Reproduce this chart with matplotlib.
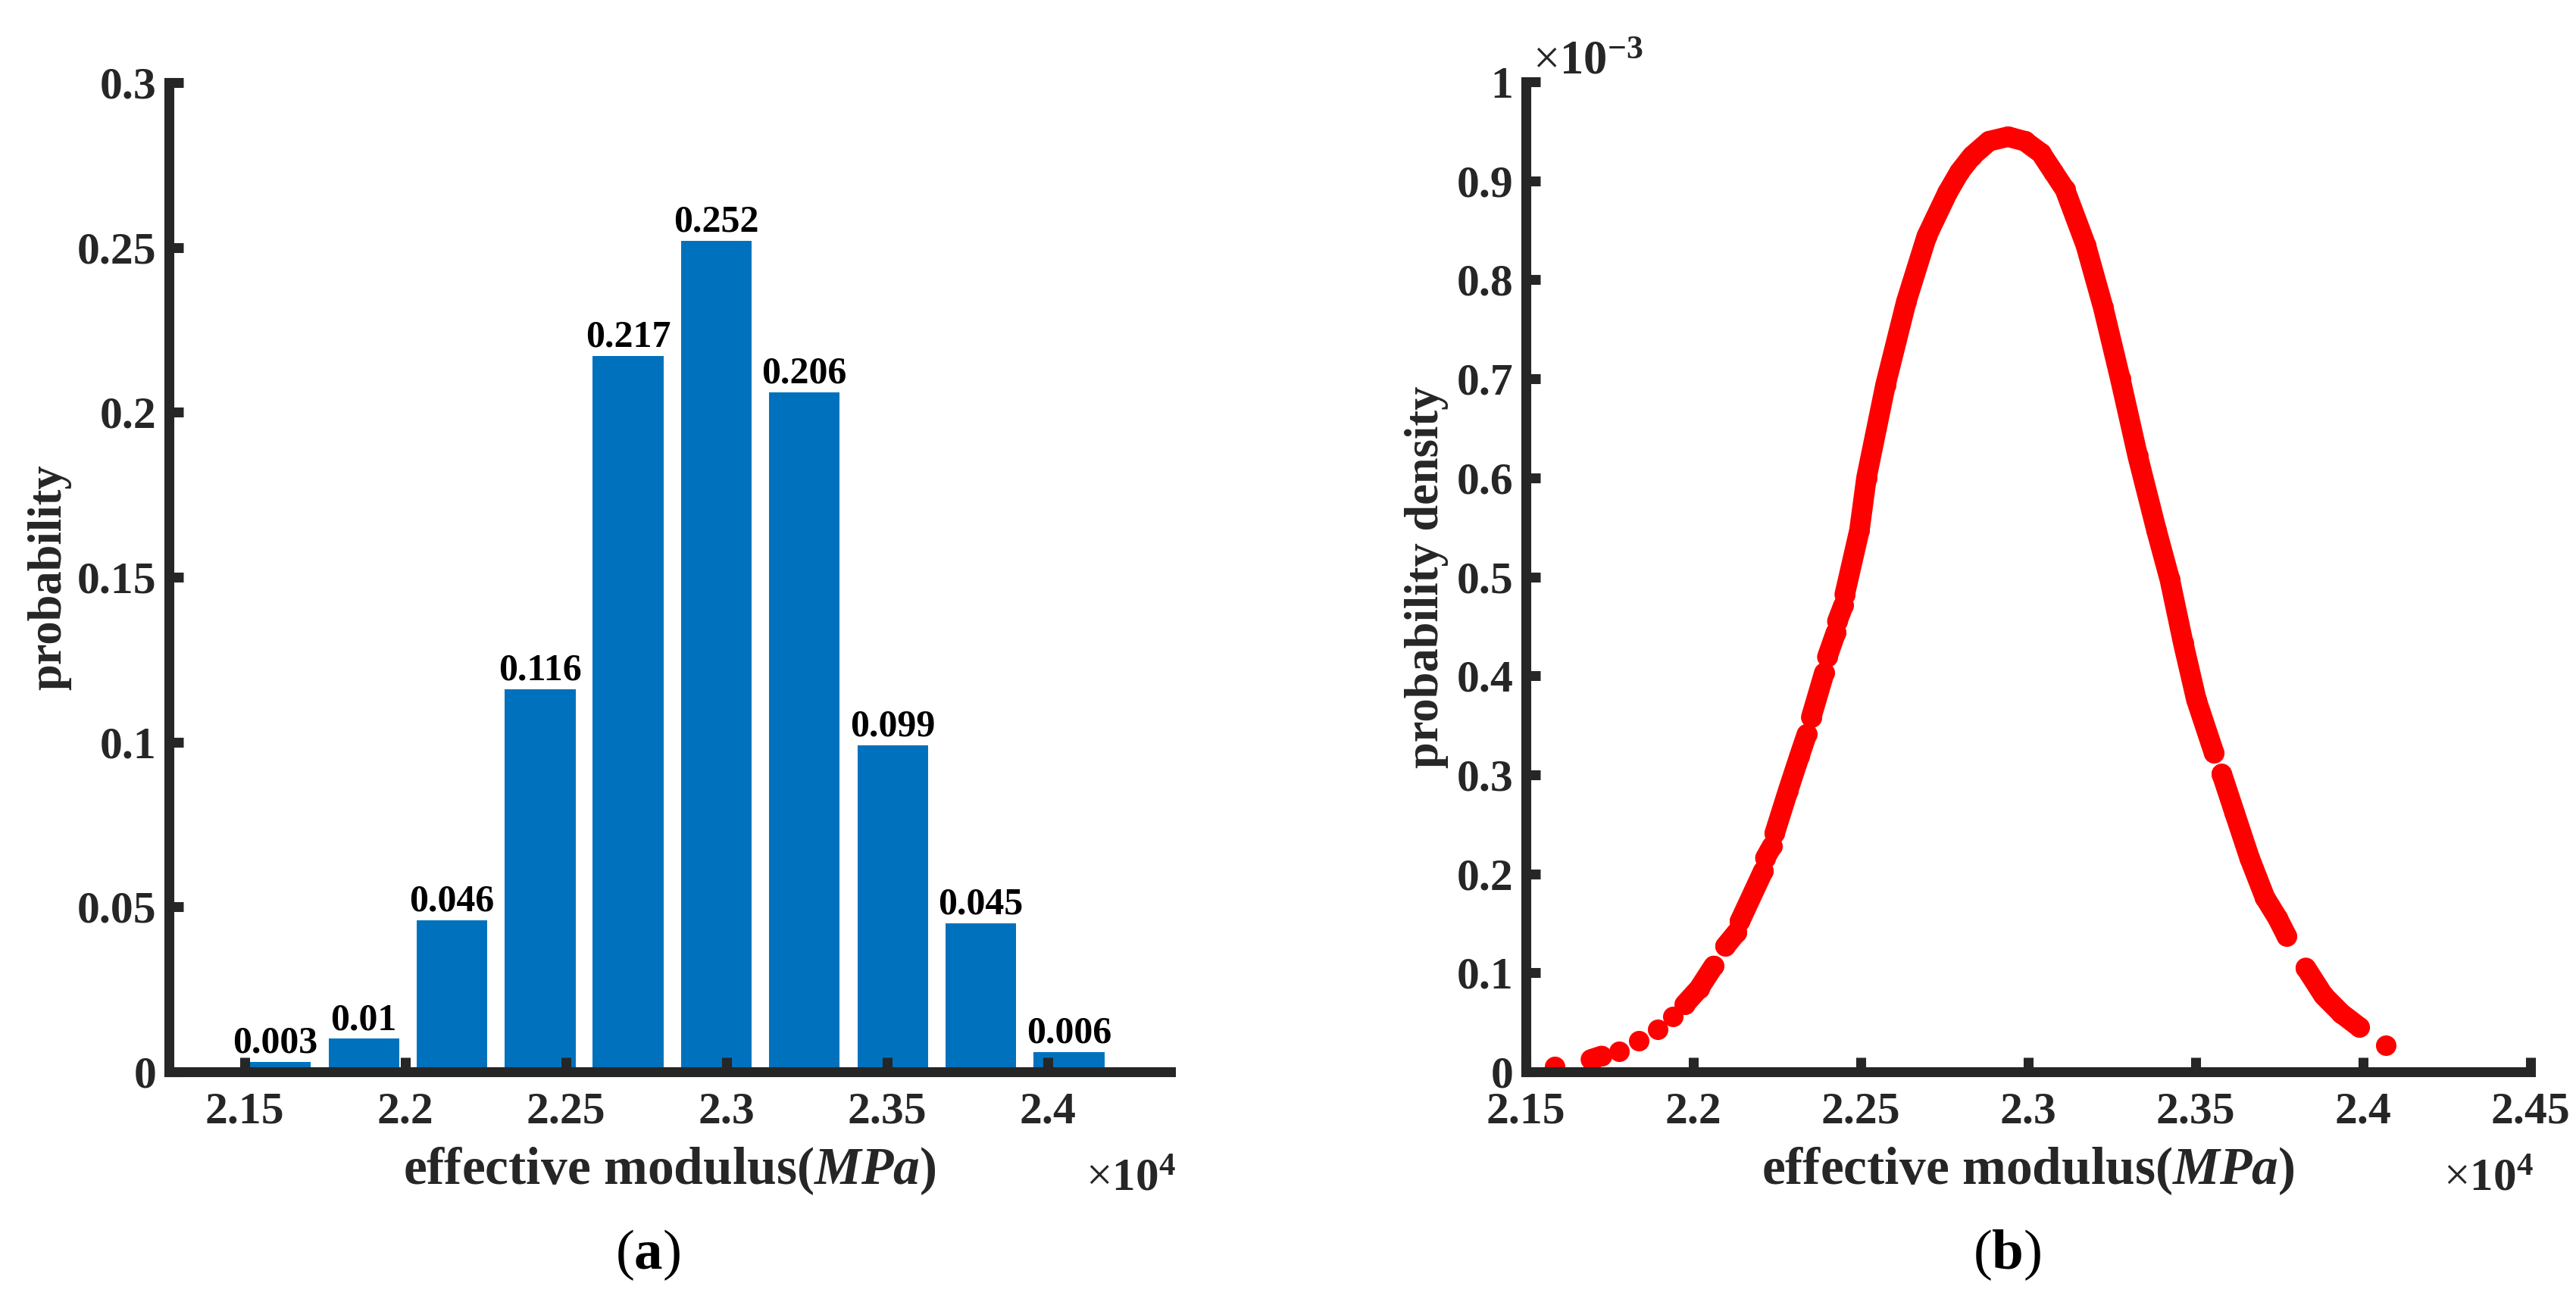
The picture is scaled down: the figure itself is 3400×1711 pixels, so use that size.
import matplotlib
matplotlib.use("Agg")
import matplotlib.pyplot as plt
import numpy as np
from matplotlib.ticker import FuncFormatter

plt.rcParams['font.family'] = ['Liberation Serif', 'DejaVu Serif']
plt.rcParams['mathtext.fontset'] = 'custom'
plt.rcParams['mathtext.rm'] = 'Liberation Serif'
plt.rcParams['mathtext.bf'] = 'Liberation Serif:bold'
plt.rcParams['mathtext.it'] = 'Liberation Serif:italic'
plt.rcParams['mathtext.bfit'] = 'Liberation Serif:italic:bold'

# (a) histogram: bar centres in units of 1e4 MPa, probabilities
bin_centers = [2.1596, 2.1871, 2.2145, 2.2420, 2.2694, 2.2969, 2.3243, 2.3518, 2.3792, 2.4067]
probability = [0.003, 0.01, 0.046, 0.116, 0.217, 0.252, 0.206, 0.099, 0.045, 0.006]

# (b) density points (x in 1e4 MPa, y in 1e-3), nan = gap between dot groups
nan = np.nan
pdf_x = [2.1586, nan,
         2.1694, 2.1726, nan,
         2.1778, nan,
         2.1837, nan,
         2.1893, nan,
         2.1939, nan,
         2.1974, 2.2017, 2.2061, nan,
         2.2096, 2.2130, nan,
         2.2139, 2.2209, nan,
         2.2215, 2.2235, nan,
         2.2243, 2.2283, 2.2317, 2.2339, nan,
         2.2352, 2.2391, nan,
         2.2400, 2.2426, nan,
         2.2430, 2.2448, nan,
         2.2452, 2.2496, 2.2517, 2.2574, 2.2636, 2.2697, 2.2759, 2.2795, 2.2832,
         2.2883, 2.2940, 2.2990, 2.3038, 2.3075, 2.3110, 2.3172, 2.3224, 2.3275,
         2.3327, 2.3383, 2.3423, 2.3463, 2.3502, 2.3555, nan,
         2.3578, 2.3616, 2.3661, 2.3707, 2.3745, 2.3772, nan,
         2.3829, 2.3882, 2.3935, 2.3989, nan,
         2.4068]
pdf_y = [0.005, nan,
         0.0125, 0.016, nan,
         0.021, nan,
         0.031, nan,
         0.043, nan,
         0.056, nan,
         0.068, 0.084, 0.107, nan,
         0.127, 0.141, nan,
         0.152, 0.203, nan,
         0.216, 0.228, nan,
         0.241, 0.284, 0.319, 0.341, nan,
         0.358, 0.403, nan,
         0.419, 0.444, nan,
         0.455, 0.471, nan,
         0.482, 0.547, 0.600, 0.694, 0.778, 0.844, 0.888, 0.909, 0.925,
         0.940, 0.9446, 0.940, 0.928, 0.909, 0.891, 0.835, 0.772, 0.700,
         0.622, 0.547, 0.497, 0.433, 0.376, 0.322, nan,
         0.301, 0.262, 0.216, 0.176, 0.155, 0.137, nan,
         0.105, 0.077, 0.059, 0.045, nan,
         0.027]

ticks_a_x = [2.15, 2.2, 2.25, 2.3, 2.35, 2.4]
ticks_a_y = [0, 0.05, 0.1, 0.15, 0.2, 0.25, 0.3]
ticks_b_x = [2.15, 2.2, 2.25, 2.3, 2.35, 2.4, 2.45]
ticks_b_y = [0, 0.1, 0.2, 0.3, 0.4, 0.5, 0.6, 0.7, 0.8, 0.9, 1]

W, H = 3400, 1711
dark = '#262626'
fmt = FuncFormatter(lambda v, p: f'{v:g}')


def style(ax):
    for s in ['top', 'right']:
        ax.spines[s].set_visible(False)
    for s in ['left', 'bottom']:
        ax.spines[s].set_linewidth(9.4)
        ax.spines[s].set_color(dark)
        ax.spines[s].set_capstyle('projecting')
    ax.tick_params(direction='in', length=14, width=9.4, color=dark,
                   labelsize=43, labelcolor=dark, pad=12)
    ax.tick_params(axis='x', pad=19)
    for lab in ax.get_xticklabels() + ax.get_yticklabels():
        lab.set_fontweight('bold')
    ax.xaxis.set_major_formatter(fmt)
    ax.yaxis.set_major_formatter(fmt)


fig = plt.figure(figsize=(W / 100, H / 100), dpi=100)

ax1 = fig.add_axes([223 / W, (H - 1415) / H, (1545 - 223) / W, (1415 - 109) / H])
bars = ax1.bar(bin_centers, probability, width=0.022, color='#0072BD')
ax1.bar_label(bars, fmt='%g', padding=1, fontsize=36, fontweight='bold', color='black')
ax1.set_xlim(2.1264, 2.4383)
ax1.set_ylim(0, 0.3)
ax1.set_xticks(ticks_a_x)
ax1.set_yticks(ticks_a_y)
style(ax1)
ax1.set_ylabel('probability', fontsize=45, fontweight='bold', color=dark, va='center')
ax1.yaxis.set_label_coords(-0.1195, 0.5)
ax1.set_xlabel(r'effective modulus($\mathbfit{MPa}$)', fontsize=50, fontweight='bold',
               color=dark, va='center')
ax1.xaxis.set_label_coords(0.5, -0.1)

ax2 = fig.add_axes([2014 / W, (H - 1415) / H, (3340 - 2014) / W, (1415 - 108) / H])
ax2.plot(pdf_x, pdf_y, color='red', lw=19.5, marker='o', ms=19.5, mew=0,
         solid_capstyle='round', solid_joinstyle='round', clip_on=False, zorder=2)
ax2.set_xlim(2.15, 2.45)
ax2.set_ylim(0, 1)
ax2.set_xticks(ticks_b_x)
ax2.set_yticks(ticks_b_y)
style(ax2)
ax2.set_ylabel('probability density', fontsize=45, fontweight='bold', color=dark, va='center')
ax2.yaxis.set_label_coords(-0.0985, 0.5)
ax2.set_xlabel(r'effective modulus($\mathbfit{MPa}$)', fontsize=50, fontweight='bold',
               color=dark, va='center')
ax2.xaxis.set_label_coords(0.5, -0.1)

# exponent labels
exp4 = r'$\times$10$^{\mathbf{4}}$'
fig.text(1552 / W, 1 - 1571 / H, exp4, fontsize=44, fontweight='bold', color=dark,
         ha='right', va='baseline')
fig.text(3344 / W, 1 - 1571 / H, exp4, fontsize=44, fontweight='bold', color=dark,
         ha='right', va='baseline')
fig.text(2023 / W, 1 - 98 / H, r'$\times$10$^{\mathbf{-3}}$', fontsize=45, fontweight='bold',
         color=dark, ha='left', va='baseline')

fig.text(855 / W, 1 - 1657 / H, r'($\mathbf{a}$)', fontsize=54, color='black',
         ha='center', va='center')
fig.text(2649 / W, 1 - 1657 / H, r'($\mathbf{b}$)', fontsize=54, color='black',
         ha='center', va='center')

fig.savefig('out.png', dpi=100, facecolor='white')
